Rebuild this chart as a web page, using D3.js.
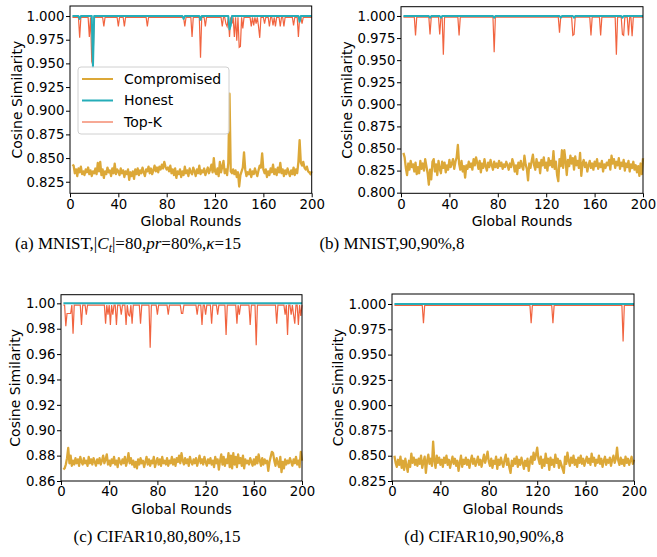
<!DOCTYPE html>
<html lang="en">
<head>
<meta charset="UTF-8" />
<title>Cosine Similarity</title>
<script src="https://cdn.jsdelivr.net/npm/d3@7"></script>
<style>
  body { margin: 0; background: #fff; }
  svg { display: block; }
  .tick text { font-family: "DejaVu Sans", sans-serif; font-size: 13.3px; fill: #000; }
  .tick line { stroke: #000; }
  .axis-label { font-family: "DejaVu Sans", sans-serif; font-size: 14px; fill: #000; }
  .caption { font-family: "Liberation Serif", "Times New Roman", serif; font-size: 17px; fill: #000; }
  .legend text { font-family: "DejaVu Sans", sans-serif; font-size: 14px; fill: #000; }
</style>
</head>
<body>
<svg width="657" height="557"></svg>
<script>
// rounds 2..200
var xTicks = [0, 40, 80, 120, 160, 200];
var yTicksA = [0.825, 0.850, 0.875, 0.900, 0.925, 0.950, 0.975, 1.000];
var yTicksB = [0.800, 0.825, 0.850, 0.875, 0.900, 0.925, 0.950, 0.975, 1.000];
var yTicksC = [0.86, 0.88, 0.90, 0.92, 0.94, 0.96, 0.98, 1.00];
var yTicksD = [0.825, 0.850, 0.875, 0.900, 0.925, 0.950, 0.975, 1.000];

var compA = [
  0.843, 0.842, 0.834, 0.838, 0.831, 0.839, 0.835, 0.841, 0.833,
  0.836, 0.832, 0.838, 0.835, 0.840, 0.833, 0.837, 0.831, 0.836, 0.834,
  0.839, 0.833, 0.845, 0.836, 0.846, 0.832, 0.838, 0.829, 0.836, 0.833,
  0.840, 0.835, 0.837, 0.831, 0.839, 0.834, 0.844, 0.833, 0.838, 0.836,
  0.832, 0.839, 0.834, 0.837, 0.830, 0.836, 0.833, 0.838, 0.827, 0.835,
  0.831, 0.836, 0.828, 0.838, 0.833, 0.839, 0.832, 0.837, 0.834, 0.840,
  0.835, 0.831, 0.838, 0.836, 0.841, 0.834, 0.839, 0.833, 0.837, 0.842,
  0.836, 0.840, 0.835, 0.841, 0.838, 0.843, 0.839, 0.846, 0.841, 0.838,
  0.840, 0.836, 0.842, 0.834, 0.838, 0.832, 0.839, 0.829, 0.836, 0.833,
  0.838, 0.830, 0.836, 0.832, 0.841, 0.834, 0.837, 0.831, 0.839, 0.835,
  0.833, 0.840, 0.836, 0.831, 0.838, 0.834, 0.842, 0.833, 0.837, 0.835,
  0.839, 0.832, 0.836, 0.840, 0.834, 0.838, 0.843, 0.835, 0.850, 0.836,
  0.833, 0.839, 0.831, 0.846, 0.835, 0.841, 0.847, 0.834, 0.838, 0.832,
  0.845, 0.918, 0.836, 0.834, 0.838, 0.833, 0.837, 0.830, 0.835, 0.820,
  0.832, 0.836, 0.840, 0.856, 0.838, 0.831, 0.835, 0.833, 0.838, 0.830,
  0.836, 0.833, 0.839, 0.835, 0.831, 0.837, 0.842, 0.840, 0.855, 0.838,
  0.834, 0.838, 0.830, 0.836, 0.832, 0.839, 0.835, 0.843, 0.833, 0.838,
  0.832, 0.840, 0.835, 0.845, 0.834, 0.838, 0.831, 0.837, 0.833, 0.839,
  0.835, 0.831, 0.837, 0.833, 0.840, 0.832, 0.838, 0.834, 0.846, 0.869,
  0.845, 0.842, 0.846, 0.840, 0.838, 0.841, 0.836, 0.835, 0.833, 0.836
];
var compB = [
  0.845, 0.840, 0.828, 0.820, 0.833, 0.826, 0.836, 0.829, 0.832,
  0.824, 0.834, 0.821, 0.829, 0.822, 0.836, 0.827, 0.833, 0.825, 0.838,
  0.830, 0.822, 0.809, 0.826, 0.815, 0.835, 0.838, 0.824, 0.832, 0.820,
  0.836, 0.827, 0.822, 0.835, 0.828, 0.834, 0.823, 0.831, 0.826, 0.837,
  0.829, 0.833, 0.838, 0.827, 0.835, 0.840, 0.854, 0.833, 0.826, 0.836,
  0.824, 0.830, 0.817, 0.831, 0.827, 0.835, 0.829, 0.833, 0.826, 0.838,
  0.831, 0.840, 0.834, 0.827, 0.836, 0.823, 0.833, 0.828, 0.838, 0.830,
  0.825, 0.834, 0.829, 0.837, 0.831, 0.826, 0.835, 0.829, 0.833, 0.828,
  0.836, 0.830, 0.834, 0.827, 0.832, 0.829, 0.835, 0.831, 0.826, 0.833,
  0.829, 0.838, 0.833, 0.824, 0.831, 0.821, 0.834, 0.828, 0.836, 0.830,
  0.826, 0.842, 0.832, 0.827, 0.814, 0.833, 0.828, 0.836, 0.843, 0.831,
  0.826, 0.838, 0.829, 0.834, 0.822, 0.837, 0.831, 0.840, 0.828, 0.834,
  0.825, 0.839, 0.831, 0.836, 0.829, 0.847, 0.827, 0.835, 0.820, 0.813,
  0.838, 0.830, 0.848, 0.828, 0.848, 0.836, 0.820, 0.837, 0.830, 0.842,
  0.833, 0.839, 0.826, 0.841, 0.831, 0.836, 0.828, 0.845, 0.819, 0.833,
  0.837, 0.829, 0.834, 0.824, 0.831, 0.836, 0.828, 0.833, 0.826, 0.835,
  0.830, 0.838, 0.827, 0.833, 0.829, 0.836, 0.824, 0.832, 0.828, 0.834,
  0.831, 0.837, 0.826, 0.842, 0.833, 0.838, 0.828, 0.835, 0.831, 0.839,
  0.827, 0.834, 0.830, 0.837, 0.825, 0.833, 0.829, 0.836, 0.824, 0.832,
  0.828, 0.835, 0.826, 0.831, 0.823, 0.830, 0.819, 0.833, 0.821, 0.839
];
var compC = [
  0.869, 0.870, 0.873, 0.878, 0.886, 0.874, 0.880, 0.872, 0.876,
  0.873, 0.878, 0.874, 0.877, 0.872, 0.879, 0.875, 0.873, 0.878, 0.874,
  0.876, 0.872, 0.879, 0.874, 0.877, 0.873, 0.878, 0.875, 0.872, 0.877,
  0.874, 0.878, 0.873, 0.876, 0.880, 0.874, 0.877, 0.881, 0.873, 0.876,
  0.872, 0.877, 0.874, 0.879, 0.873, 0.876, 0.871, 0.878, 0.875, 0.873,
  0.877, 0.874, 0.879, 0.872, 0.876, 0.882, 0.874, 0.878, 0.873, 0.876,
  0.871, 0.875, 0.870, 0.877, 0.873, 0.878, 0.874, 0.876, 0.871, 0.875,
  0.879, 0.873, 0.877, 0.872, 0.876, 0.874, 0.879, 0.871, 0.875, 0.878,
  0.873, 0.877, 0.872, 0.879, 0.874, 0.876, 0.873, 0.878, 0.872, 0.876,
  0.874, 0.879, 0.873, 0.877, 0.872, 0.878, 0.875, 0.880, 0.874, 0.882,
  0.876, 0.873, 0.878, 0.874, 0.877, 0.872, 0.879, 0.875, 0.873, 0.877,
  0.874, 0.878, 0.872, 0.876, 0.880, 0.874, 0.877, 0.873, 0.879, 0.875,
  0.872, 0.877, 0.874, 0.878, 0.873, 0.876, 0.871, 0.879, 0.874, 0.877,
  0.869, 0.876, 0.881, 0.873, 0.879, 0.872, 0.877, 0.874, 0.882, 0.871,
  0.880, 0.870, 0.882, 0.873, 0.879, 0.871, 0.881, 0.874, 0.878, 0.872,
  0.880, 0.870, 0.877, 0.874, 0.876, 0.873, 0.878, 0.875, 0.872, 0.877,
  0.873, 0.879, 0.874, 0.881, 0.876, 0.872, 0.878, 0.873, 0.877, 0.874,
  0.876, 0.868, 0.875, 0.879, 0.883, 0.882, 0.876, 0.872, 0.878, 0.874,
  0.871, 0.879, 0.867, 0.875, 0.870, 0.877, 0.873, 0.876, 0.874, 0.878,
  0.875, 0.872, 0.877, 0.874, 0.879, 0.873, 0.876, 0.871, 0.883, 0.876
];
var compD = [
  0.850, 0.843, 0.839, 0.846, 0.841, 0.849, 0.838, 0.845, 0.836,
  0.847, 0.840, 0.834, 0.845, 0.839, 0.852, 0.843, 0.848, 0.841, 0.846,
  0.840, 0.847, 0.842, 0.850, 0.838, 0.844, 0.849, 0.833, 0.845, 0.851,
  0.842, 0.847, 0.840, 0.864, 0.845, 0.838, 0.850, 0.843, 0.848, 0.841,
  0.846, 0.839, 0.848, 0.843, 0.850, 0.841, 0.846, 0.838, 0.844, 0.849,
  0.842, 0.847, 0.840, 0.845, 0.835, 0.843, 0.850, 0.839, 0.846, 0.842,
  0.848, 0.841, 0.846, 0.838, 0.845, 0.850, 0.842, 0.847, 0.840, 0.844,
  0.849, 0.841, 0.846, 0.839, 0.845, 0.851, 0.843, 0.848, 0.854, 0.844,
  0.840, 0.847, 0.838, 0.845, 0.842, 0.849, 0.837, 0.846, 0.841, 0.848,
  0.843, 0.839, 0.846, 0.851, 0.841, 0.847, 0.838, 0.833, 0.845, 0.840,
  0.847, 0.842, 0.849, 0.839, 0.846, 0.841, 0.848, 0.843, 0.837, 0.845,
  0.840, 0.847, 0.835, 0.844, 0.849, 0.842, 0.853, 0.846, 0.851, 0.858,
  0.847, 0.842, 0.849, 0.838, 0.846, 0.840, 0.852, 0.843, 0.847, 0.836,
  0.848, 0.841, 0.846, 0.839, 0.851, 0.843, 0.847, 0.838, 0.845, 0.841,
  0.837, 0.833, 0.849, 0.842, 0.853, 0.845, 0.840, 0.848, 0.843, 0.850,
  0.841, 0.846, 0.839, 0.848, 0.843, 0.850, 0.842, 0.847, 0.840, 0.845,
  0.849, 0.843, 0.847, 0.841, 0.852, 0.844, 0.848, 0.840, 0.846, 0.843,
  0.850, 0.842, 0.847, 0.839, 0.845, 0.849, 0.841, 0.846, 0.843, 0.848,
  0.840, 0.846, 0.850, 0.843, 0.847, 0.858, 0.845, 0.841, 0.848, 0.842,
  0.846, 0.840, 0.849, 0.843, 0.847, 0.841, 0.845, 0.849, 0.842, 0.846
];

// [round, value] where the line leaves ~1.0
var topkDipsA = [[8,0.977],[16,0.978],[18,0.952],[19,0.948],[28,0.989],[40,0.989],[45,0.989],[64,0.989],
  [95,0.989],[101,0.978],[108,0.956],[112,0.989],[126,0.989],[129,0.992],[130,0.989],[132,0.978],[134,0.992],
  [136,0.978],[138,0.974],[140,0.967],[141,0.968],[143,0.987],[150,0.989],[152,0.990],[154,0.992],[156,0.989],
  [157,0.977],[161,0.992],[165,0.989],[168,0.990],[170,0.989],[174,0.989],[177,0.989],[185,0.990],[189,0.978],[192,0.992]];
var honestDipsA = [[8,0.997],[19,0.946],[94,0.997],[108,0.996],[132,0.986],[133,0.990],[190,0.994]];

var topkDipsB = [[12,0.978],[24,0.979],[32,0.979],[35,0.956],[48,0.978],[77,0.959],[131,0.981],[142,0.978],
  [143,0.979],[157,0.978],[165,0.978],[178,0.956],[183,0.979],[184,0.978],[188,0.978],[191,0.977]];
var honestDipsB = [[24,0.998],[33,0.998],[77,0.998],[132,0.998],[143,0.998],[183,0.998]];

var topkDipsC = [[4,0.982],[5,0.992],[6,0.992],[7,0.992],[8,0.992],[10,0.976],[17,0.983],[21,0.991],[37,0.984],
  [39,0.991],[41,0.983],[43,0.991],[46,0.983],[50,0.991],[54,0.983],[56,0.991],[57,0.990],[59,0.984],[66,0.984],
  [74,0.965],[80,0.991],[89,0.991],[100,0.992],[101,0.992],[113,0.991],[117,0.983],[120,0.991],[125,0.984],
  [130,0.991],[137,0.975],[146,0.984],[148,0.991],[157,0.983],[162,0.967],[179,0.984],[186,0.991],[188,0.975],
  [191,0.991],[193,0.991],[194,0.984],[197,0.983],[199,0.990]];
var honestDipsC = [];

var topkDipsD = [[26,0.981],[115,0.981],[133,0.981],[191,0.963]];
var honestDipsD = [];

var topkBase = 0.9986;
var honestBase = 1.0;

var colors = { comp: "#dca838", honest: "#25adb8", topk: "#f0532b" };
var legendItems = [["Compromised", "comp"], ["Honest", "honest"], ["Top-K", "topk"]];

var svg = d3.select("svg");
var rounds = d3.range(2, 201);

function series(values) {
  return values.map(function (v, i) { return { x: rounds[i], y: v }; });
}
function flatSeries(base, dips) {
  var m = new Map(dips);
  return rounds.map(function (r) { return { x: r, y: m.has(r) ? m.get(r) : base }; });
}

var panels = [
  { comp: compA, topk: topkDipsA, honest: honestDipsA, ticks: yTicksA, fmt: ".3f", yMin: 0.8128, yMax: 1.0106,
    left: 70, top: 6, right: 311.7, bottom: 193.3, yLabelX: 17, legend: true, capX: 128, capY: 249, cap: "a" },
  { comp: compB, topk: topkDipsB, honest: honestDipsB, ticks: yTicksB, fmt: ".3f", yMin: 0.7993, yMax: 1.0105,
    left: 401, top: 6.7, right: 643, bottom: 193.3, yLabelX: 347, capX: 392, capY: 249, cap: "b" },
  { comp: compC, topk: topkDipsC, honest: honestDipsC, ticks: yTicksC, fmt: ".2f", yMin: 0.86, yMax: 1.0068,
    left: 61, top: 294.7, right: 302, bottom: 481, yLabelX: 15.5, capX: 157, capY: 542, cap: "c" },
  { comp: compD, topk: topkDipsD, honest: honestDipsD, ticks: yTicksD, fmt: ".3f", yMin: 0.825, yMax: 1.0099,
    left: 392, top: 294, right: 634, bottom: 481, yLabelX: 338, capX: 484, capY: 542, cap: "d" }
];

panels.forEach(function (p) {
  var x = d3.scaleLinear().domain([0, 200]).range([p.left, p.right]);
  var y = d3.scaleLinear().domain([p.yMin, p.yMax]).range([p.bottom, p.top]);
  var line = d3.line().x(function (d) { return x(d.x); }).y(function (d) { return y(d.y); });

  var g = svg.append("g");

  g.append("path").datum(series(p.comp))
    .attr("d", line).attr("fill", "none")
    .attr("stroke", colors.comp).attr("stroke-width", 2.3).attr("stroke-linejoin", "round");

  // top-K drawn under the honest line so the teal stays on top at 1.0
  g.append("path").datum(flatSeries(topkBase, p.topk))
    .attr("d", line).attr("fill", "none")
    .attr("stroke", colors.topk).attr("stroke-width", 1.2).attr("stroke-opacity", 0.9);

  g.append("path").datum(flatSeries(honestBase, p.honest))
    .attr("d", line).attr("fill", "none")
    .attr("stroke", colors.honest).attr("stroke-width", 2).attr("stroke-linejoin", "round");

  g.append("g")
    .attr("transform", "translate(0," + p.bottom + ")")
    .call(d3.axisBottom(x).tickValues(xTicks).tickSize(4).tickPadding(2).tickFormat(d3.format("d")))
    .call(function (a) { a.select(".domain").remove(); });

  g.append("g")
    .attr("transform", "translate(" + p.left + ",0)")
    .call(d3.axisLeft(y).tickValues(p.ticks).tickSize(4).tickPadding(1.5).tickFormat(d3.format(p.fmt)))
    .call(function (a) { a.select(".domain").remove(); });

  g.append("rect")
    .attr("x", p.left).attr("y", p.top)
    .attr("width", p.right - p.left).attr("height", p.bottom - p.top)
    .attr("fill", "none").attr("stroke", "#000").attr("stroke-width", 1);

  g.append("text").attr("class", "axis-label")
    .attr("x", (p.left + p.right) / 2).attr("y", p.bottom + 32.5)
    .attr("text-anchor", "middle").text("Global Rounds");

  g.append("text").attr("class", "axis-label")
    .attr("transform", "translate(" + p.yLabelX + "," + (p.top + p.bottom) / 2 + ") rotate(-90)")
    .attr("text-anchor", "middle").attr("dy", "0.35em").text("Cosine Similarity");

  if (p.legend) {
    var lg = g.append("g").attr("class", "legend");
    lg.append("rect").attr("x", 78).attr("y", 67).attr("width", 151).attr("height", 67).attr("rx", 3)
      .attr("fill", "#fff").attr("fill-opacity", 0.8).attr("stroke", "#d0d0d0");
    legendItems.forEach(function (it, i) {
      var yy = 79 + i * 21.5;
      lg.append("line").attr("x1", 82).attr("x2", 113).attr("y1", yy).attr("y2", yy)
        .attr("stroke", colors[it[1]]).attr("stroke-width", 2)
        .attr("stroke-opacity", it[1] === "topk" ? 0.5 : 1);
      lg.append("text").attr("x", 124).attr("y", yy).attr("dy", "0.35em").text(it[0]);
    });
  }

  var cap = svg.append("text").attr("class", "caption")
    .attr("x", p.capX).attr("y", p.capY).attr("text-anchor", "middle");
  if (p.cap === "a") {
    cap.append("tspan").text("(a) MNIST,|");
    cap.append("tspan").attr("font-style", "italic").text("C");
    cap.append("tspan").attr("font-style", "italic").attr("font-size", "12px").attr("dy", 3).text("t");
    cap.append("tspan").attr("dy", -3).text("|=80,");
    cap.append("tspan").attr("font-style", "italic").text("pr");
    cap.append("tspan").text("=80%,");
    cap.append("tspan").attr("font-style", "italic").text("κ");
    cap.append("tspan").text("=15");
  } else if (p.cap === "b") {
    cap.text("(b) MNIST,90,90%,8");
  } else if (p.cap === "c") {
    cap.text("(c) CIFAR10,80,80%,15");
  } else {
    cap.text("(d) CIFAR10,90,90%,8");
  }
});
</script>
</body>
</html>
